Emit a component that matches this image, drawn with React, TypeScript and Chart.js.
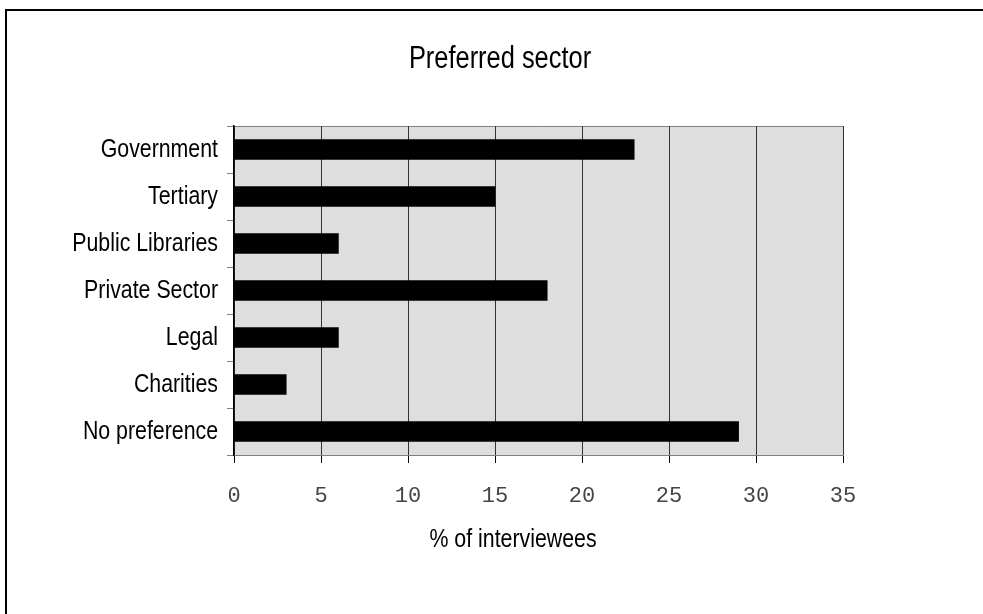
import { useEffect, useRef } from "react";
import { Chart, registerables } from "chart.js";

Chart.register(...registerables);

// Preferred sector of interviewees, percent
const sectors = [
  "Government",
  "Tertiary",
  "Public Libraries",
  "Private Sector",
  "Legal",
  "Charities",
  "No preference",
];
const sharePercent = [23, 15, 6, 18, 6, 3, 29];
const xTickValues = [0, 5, 10, 15, 20, 25, 30, 35];
const chartTitle = "Preferred sector";
const xAxisTitle = "% of interviewees";

const SANS = "'Liberation Sans', Arial, sans-serif";
const MONO = "'Liberation Mono', 'Courier New', monospace";
const NARROW_RATIO = 0.82;

// Horizontally condensed sans text (Helvetica Narrow look)
function narrowText(
  ctx: CanvasRenderingContext2D,
  text: string,
  x: number,
  y: number,
  size: number,
  align: CanvasTextAlign
) {
  ctx.save();
  ctx.translate(x, y);
  ctx.scale(NARROW_RATIO, 1);
  ctx.font = `${size}px ${SANS}`;
  ctx.fillStyle = "#000000";
  ctx.textAlign = align;
  ctx.textBaseline = "middle";
  ctx.fillText(text, 0, 0);
  ctx.restore();
}

// Page frame, grey plot background, title, category labels and axis caption
const framePlugin = {
  id: "frame",
  beforeDraw(chart: any) {
    const { ctx, chartArea: a, width, height } = chart;
    ctx.save();
    ctx.fillStyle = "#ffffff";
    ctx.fillRect(0, 0, width, height);
    ctx.fillStyle = "#000000";
    ctx.fillRect(5, 9, width - 5, 2);
    ctx.fillRect(5, 9, 2, height - 9);
    ctx.fillStyle = "#dedede";
    ctx.fillRect(a.left, a.top, a.right - a.left, a.bottom - a.top);
    ctx.strokeStyle = "#808080";
    ctx.lineWidth = 1;
    ctx.beginPath();
    ctx.moveTo(a.left, a.top + 0.5);
    ctx.lineTo(a.right, a.top + 0.5);
    ctx.stroke();
    ctx.restore();
  },
  afterDraw(chart: any, _args: any, opts: any) {
    const { ctx } = chart;
    const y = chart.scales.y;
    narrowText(ctx, opts.title, opts.titleX, opts.titleY, 31, "center");
    sectors.forEach((label, i) => {
      narrowText(ctx, label, y.right - opts.labelGap, y.getPixelForValue(i), 26, "right");
    });
    narrowText(ctx, opts.caption, opts.captionX, opts.captionY, 26, "center");
  },
};

export default function App() {
  const canvasRef = useRef<HTMLCanvasElement | null>(null);

  useEffect(() => {
    if (!canvasRef.current) return;
    const chart = new Chart(canvasRef.current, {
      type: "bar",
      data: {
        labels: sectors,
        datasets: [
          {
            data: sharePercent,
            backgroundColor: "#000000",
            borderWidth: 0,
            barThickness: 20,
          },
        ],
      },
      plugins: [framePlugin],
      options: {
        indexAxis: "y",
        animation: false,
        responsive: true,
        maintainAspectRatio: false,
        layout: { padding: { left: 0, right: 140, top: 126, bottom: 0 } },
        plugins: {
          legend: { display: false },
          tooltip: { enabled: false },
          title: { display: false },
          frame: {
            title: chartTitle,
            titleX: 500,
            titleY: 59,
            caption: xAxisTitle,
            captionX: 513,
            captionY: 540,
            labelGap: 16,
          },
        } as any,
        scales: {
          x: {
            type: "linear",
            min: 0,
            max: 35,
            afterBuildTicks(scale: any) {
              scale.ticks = xTickValues.map((v) => ({ value: v }));
            },
            afterFit(scale: any) {
              scale.height = 159;
            },
            grid: {
              color: "#333333",
              lineWidth: 1,
              tickColor: "#000000",
              tickLength: 8,
            },
            border: { color: "#808080", width: 1 },
            ticks: {
              color: "#444444",
              font: { family: MONO, size: 22 },
              padding: 20,
              maxRotation: 0,
            },
          },
          y: {
            type: "category",
            afterFit(scale: any) {
              scale.width = 234;
            },
            grid: {
              drawOnChartArea: false,
              offset: true,
              color: "#808080",
              tickColor: "#808080",
              tickLength: 7,
            },
            border: { color: "#000000", width: 1.5 },
            ticks: { display: false },
          },
        },
      } as any,
    });
    return () => chart.destroy();
  }, []);

  return (
    <div style={{ position: "fixed", left: 0, top: 0, width: 983, height: 614 }}>
      <canvas ref={canvasRef} />
    </div>
  );
}
